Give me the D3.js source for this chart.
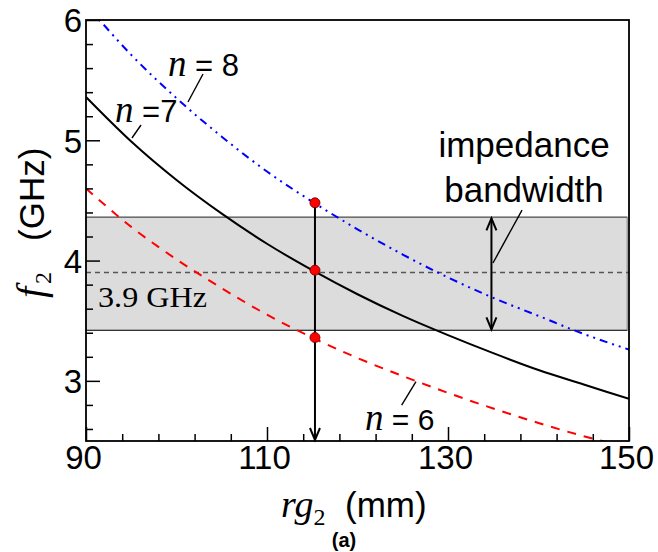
<!DOCTYPE html>
<html><head><meta charset="utf-8">
<script src="https://cdn.jsdelivr.net/npm/d3@7"></script>
<style>body{margin:0;background:#fff}svg{display:block}</style>
</head><body>
<svg id="c" width="658" height="552"></svg>
<script>
// ---- data ----
const rg = [90,95,100,105,110,115,120,125,130,135,140,145,150];
const f_n6 = [4.60,4.28,4.01,3.77,3.55,3.36,3.19,3.04,2.90,2.77,2.65,2.54,2.45];
const f_n7 = [5.36,4.99,4.67,4.39,4.14,3.92,3.72,3.54,3.38,3.23,3.09,2.97,2.85];
const f_n8 = [6.13,5.71,5.35,5.03,4.74,4.49,4.26,4.05,3.86,3.69,3.54,3.39,3.26];
const bandLow = 3.42, bandHigh = 4.36, centerFreq = 3.9;
const designRg = 115.3;
const designPts = [4.48, 3.92, 3.36];
const bwArrowRg = 134.8;
const xTicks = [90,110,130,150];
const xMinor = [94,98,102,106,114,118,122,126,134,138,142,146];
const yTicks = [3,4,5,6];
const yMinor = [2.6,2.8,3.2,3.4,3.6,3.8,4.2,4.4,4.6,4.8,5.2,5.4,5.6,5.8];

const SANS = '"Liberation Sans", Arial, sans-serif';
const SERIF = '"Liberation Serif", "Times New Roman", serif';

const svg = d3.select('#c');
const L=86,R=629,T=20,B=441;
const x = d3.scaleLinear().domain([90,150]).range([L,R]);
const y = d3.scaleLinear().domain([2.5,6]).range([B,T]);

svg.append('defs').append('clipPath').attr('id','clip')
  .append('rect').attr('x',L).attr('y',T).attr('width',R-L).attr('height',B-T);

// band
svg.append('rect').attr('x',x(90)).attr('y',y(bandHigh))
  .attr('width',x(149.8)-x(90)).attr('height',y(bandLow)-y(bandHigh))
  .attr('fill','#dcdcdc').attr('stroke','#777').attr('stroke-width',1);
svg.append('line').attr('x1',x(90)).attr('x2',x(149.8)).attr('y1',y(bandHigh)).attr('y2',y(bandHigh))
  .attr('stroke','#6e6e6e').attr('stroke-width',1.6);
svg.append('line').attr('x1',x(90)).attr('x2',x(149.8)).attr('y1',y(bandLow)).attr('y2',y(bandLow))
  .attr('stroke','#333').attr('stroke-width',1.2);
svg.append('line').attr('x1',x(90)).attr('x2',x(150)).attr('y1',y(centerFreq)).attr('y2',y(centerFreq))
  .attr('stroke','#555').attr('stroke-width',1.5).attr('stroke-dasharray','5,4');

// curves
const line = d3.line().x(d=>x(d[0])).y(d=>y(d[1])).curve(d3.curveMonotoneX);
const g = svg.append('g').attr('clip-path','url(#clip)');
g.append('path').datum(rg.map((r,i)=>[r,f_n6[i]])).attr('d',line)
  .attr('fill','none').attr('stroke','#ff0000').attr('stroke-width',2).attr('stroke-dasharray','9,8');
g.append('path').datum(rg.map((r,i)=>[r,f_n8[i]])).attr('d',line)
  .attr('fill','none').attr('stroke','#0000ff').attr('stroke-width',2).attr('stroke-dasharray','8,5,2,5,2,5');
g.append('path').datum(rg.map((r,i)=>[r,f_n7[i]])).attr('d',line)
  .attr('fill','none').attr('stroke','#000').attr('stroke-width',2);

// arrows
function vHead(px,py,dir){ // dir=1 pointing down, -1 up
  return `M${px-5},${py-12*dir}L${px},${py}L${px+5},${py-12*dir}`;
}
const vx = x(designRg);
svg.append('line').attr('x1',vx).attr('x2',vx).attr('y1',y(designPts[0])).attr('y2',y(2.5)-1)
  .attr('stroke','#000').attr('stroke-width',2);
svg.append('path').attr('d',vHead(vx,y(2.5)-1,1)).attr('fill','none').attr('stroke','#000').attr('stroke-width',2);

const bx = x(bwArrowRg);
svg.append('line').attr('x1',bx).attr('x2',bx).attr('y1',y(bandHigh)+1).attr('y2',y(bandLow)-1)
  .attr('stroke','#000').attr('stroke-width',2);
svg.append('path').attr('d',vHead(bx,y(bandHigh)+1,-1)).attr('fill','none').attr('stroke','#000').attr('stroke-width',2);
svg.append('path').attr('d',vHead(bx,y(bandLow)-1,1)).attr('fill','none').attr('stroke','#000').attr('stroke-width',2);

// points
svg.selectAll('circle.pt').data(designPts).join('circle').attr('class','pt')
  .attr('cx',vx).attr('cy',d=>y(d)).attr('r',5)
  .attr('fill','#ff0000').attr('stroke','#700').attr('stroke-width',0.9);

// frame
svg.append('rect').attr('x',L).attr('y',T).attr('width',R-L).attr('height',B-T)
  .attr('fill','none').attr('stroke','#000').attr('stroke-width',1.8);

// axes
const ax = svg.append('g').attr('transform',`translate(0,${B})`)
  .call(d3.axisBottom(x).tickValues(xTicks).tickSize(-14).tickFormat(d3.format('d')));
svg.append('g').attr('transform',`translate(0,${B})`)
  .call(d3.axisBottom(x).tickValues(xMinor).tickSize(-7).tickFormat(''));
const ay = svg.append('g').attr('transform',`translate(${L},0)`)
  .call(d3.axisLeft(y).tickValues(yTicks).tickSize(-14).tickFormat(d3.format('d')));
svg.append('g').attr('transform',`translate(${L},0)`)
  .call(d3.axisLeft(y).tickValues(yMinor).tickSize(-7).tickFormat(''));
svg.selectAll('.domain').remove();
svg.selectAll('.tick line').attr('stroke','#000').attr('stroke-width',1.5);
ax.selectAll('.tick text').attr('font-family',SANS).attr('font-size',33).attr('fill','#000')
  .attr('y',0).attr('dy',0).attr('transform','translate(-3,28)');
ay.selectAll('.tick text').attr('font-family',SANS).attr('font-size',33).attr('fill','#000')
  .attr('x',-4).attr('dy','0.36em');

// axis titles
const yt = svg.append('text').attr('transform','translate(44,298) rotate(-90)').attr('fill','#000');
yt.append('tspan').attr('x',0).attr('font-family',SERIF).attr('font-style','italic').attr('font-size',40).text('f');
yt.append('tspan').attr('font-family',SERIF).attr('font-size',24).attr('dy',7).attr('dx',3).text('2');
yt.append('tspan').attr('x',57).attr('dy',-7).attr('font-family',SANS).attr('font-size',35).text('(GHz)');

const xt = svg.append('text').attr('x',281).attr('y',517).attr('fill','#000');
xt.append('tspan').attr('font-family',SERIF).attr('font-style','italic').attr('font-size',38).text('rg');
xt.append('tspan').attr('font-family',SERIF).attr('font-size',24).attr('dy',8).text('2');
xt.append('tspan').attr('x',345).attr('dy',-8).attr('font-family',SANS).attr('font-size',35).text('(mm)');

svg.append('text').attr('x',344).attr('y',547).attr('text-anchor','middle')
  .attr('font-family',SANS).attr('font-weight','bold').attr('font-size',20).text('(a)');

// annotations
function nLabel(rx,fy,eq,sz){
  const t = svg.append('text').attr('x',x(rx)).attr('y',y(fy)).attr('fill','#000');
  t.append('tspan').attr('font-family',SERIF).attr('font-style','italic').attr('font-size',37).text('n');
  t.append('tspan').attr('font-family',SANS).attr('font-size',sz).text(eq);
}
nLabel(99.06,5.534,'\u00a0= 8',31);
nLabel(93.2,5.152,'\u00a0=7',31);
nLabel(120.83,2.592,'\u00a0= 6',30);

function leader(x1,y1,x2,y2){
  svg.append('line').attr('x1',x(x1)).attr('y1',y(y1)).attr('x2',x(x2)).attr('y2',y(y2))
    .attr('stroke','#000').attr('stroke-width',1.4);
}
leader(101.27,5.318,102.93,5.551);
leader(95.08,5.019,96.08,5.127);
leader(124.88,2.799,126.46,2.993);
leader(134.97,3.98,138.18,4.42);

svg.append('text').attr('x',x(138.4)).attr('y',y(4.861)).attr('text-anchor','middle')
  .attr('font-family',SANS).attr('font-size',35).text('impedance');
svg.append('text').attr('x',x(138.4)).attr('y',y(4.487)).attr('text-anchor','middle')
  .attr('font-family',SANS).attr('font-size',35).text('bandwidth');
svg.append('text').attr('x',x(91.33)).attr('y',y(3.614))
  .attr('font-family',SERIF).attr('font-size',29).attr('textLength',109).attr('lengthAdjust','spacingAndGlyphs')
  .text('3.9 GHz');
</script>
</body></html>
